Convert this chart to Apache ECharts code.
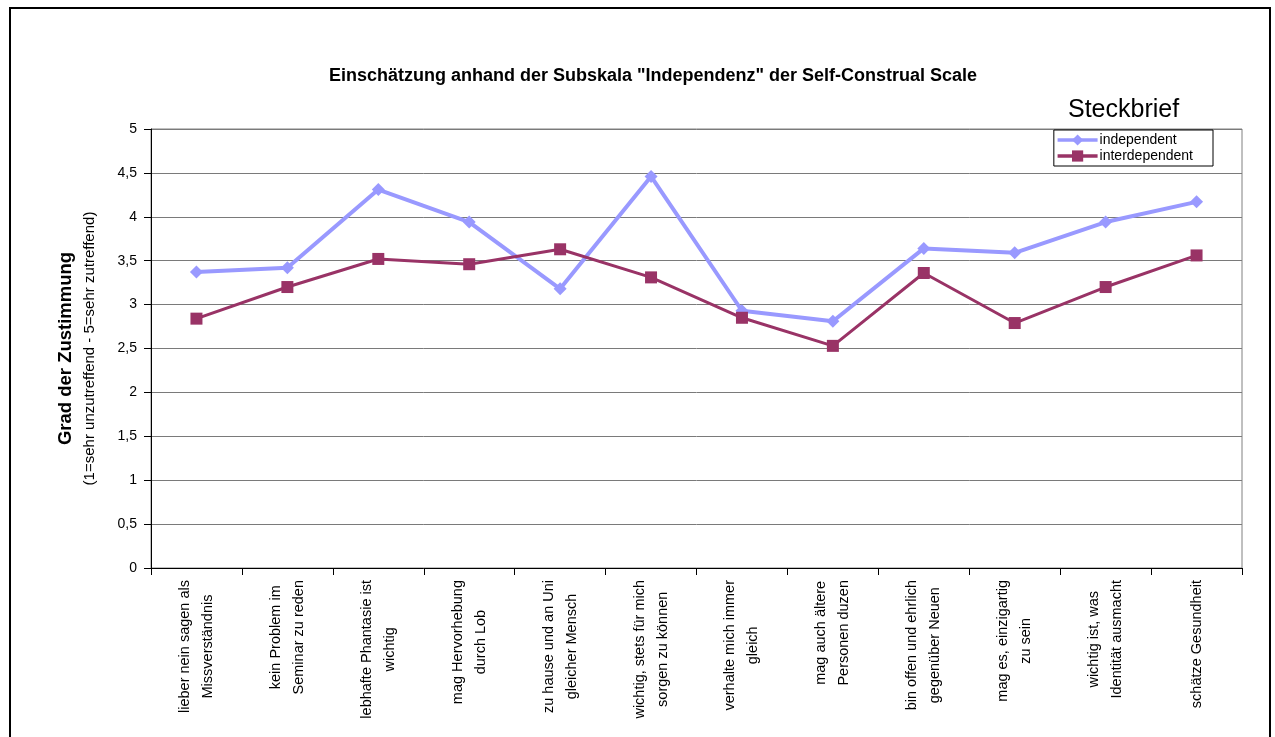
<!DOCTYPE html>
<html>
<head>
<meta charset="utf-8">
<script src="https://cdn.jsdelivr.net/npm/echarts@6/dist/echarts.min.js"></script>
<style>
  html, body { margin: 0; padding: 0; background: #fff; }
  #chart { width: 1275px; height: 737px; }
</style>
</head>
<body>
<div id="chart"></div>
<script>
const categories = [
  "lieber nein sagen als\nMissverständnis",
  "kein Problem im\nSeminar zu reden",
  "lebhafte Phantasie ist\nwichtig",
  "mag Hervorhebung\ndurch Lob",
  "zu hause und an Uni\ngleicher Mensch",
  "wichtig, stets für mich\nsorgen zu können",
  "verhalte mich immer\ngleich",
  "mag auch ältere\nPersonen duzen",
  "bin offen und ehrlich\ngegenüber Neuen",
  "mag es, einzigartig\nzu sein",
  "wichtig ist, was\nIdentität ausmacht",
  "schätze Gesundheit"
];
const independent = [3.37, 3.42, 4.31, 3.94, 3.18, 4.46, 2.93, 2.81, 3.64, 3.59, 3.94, 4.17];
const interdependent = [2.84, 3.20, 3.52, 3.46, 3.63, 3.31, 2.85, 2.53, 3.36, 2.79, 3.20, 3.56];

const font = "Liberation Sans, Arial, sans-serif";
const chart = echarts.init(document.getElementById("chart"));

chart.setOption({
  animation: false,
  backgroundColor: "#fff",
  title: [
    {
      text: 'Einschätzung anhand der Subskala "Independenz" der Self-Construal Scale',
      left: 648,
      textAlign: "center",
      top: 62,
      textStyle: { fontFamily: font, fontSize: 18, fontWeight: "bold", color: "#000" },
    },
    {
      text: "Steckbrief",
      left: 1063,
      top: 93,
      textStyle: { fontFamily: font, fontSize: 25, fontWeight: "normal", color: "#000" },
    },
  ],
  legend: {
    orient: "vertical",
    right: 62,
    top: 130,
    itemWidth: 40,
    itemHeight: 14,
    itemGap: 2,
    padding: [3, 20, 3, 2],
    borderColor: "#000",
    borderWidth: 1,
    backgroundColor: "#fff",
    lineStyle: { width: 3.5 },
    textStyle: { fontFamily: font, fontSize: 14, color: "#000", padding: [0, 0, 0, -3] },
    data: ["independent", "interdependent"],
  },
  graphic: [
    {
      type: "rect",
      shape: { x: 10, y: 8, width: 1260, height: 740 },
      style: { fill: "none", stroke: "#000", lineWidth: 2 },
      silent: true,
    },
  ],
  grid: {
    left: 151,
    right: 33,
    top: 129,
    bottom: 169,
    show: true,
    borderColor: "#808080",
    borderWidth: 1,
  },
  xAxis: {
    type: "category",
    data: categories,
    boundaryGap: true,
    axisLine: { lineStyle: { color: "#000", width: 1 } },
    axisTick: { show: true, length: 7, lineStyle: { color: "#000" } },
    axisLabel: {
      interval: 0,
      rotate: 90,
      margin: 12,
      formatter: (v) => v.split("\n").map((l) => "{c|" + l + "}").join("\n"),
      rich: {
        c: { align: "center", fontFamily: font, fontSize: 14.5, color: "#000", lineHeight: 23 },
      },
    },
  },
  yAxis: {
    type: "value",
    min: 0,
    max: 5,
    interval: 0.5,
    name: "{a|Grad der Zustimmung}\n{b|(1=sehr unzutreffend - 5=sehr zutreffend)}",
    nameLocation: "middle",
    nameRotate: 90,
    nameGap: 50,
    nameTextStyle: {
      rich: {
        a: { align: "center", fontFamily: font, fontSize: 18.5, fontWeight: "bold", color: "#000", lineHeight: 26 },
        b: { align: "center", fontFamily: font, fontSize: 15, color: "#000", lineHeight: 22 },
      },
    },
    axisLine: { show: true, lineStyle: { color: "#000", width: 1 } },
    axisTick: { show: true, length: 7, lineStyle: { color: "#000" } },
    axisLabel: {
      margin: 14,
      fontFamily: font,
      fontSize: 14,
      color: "#000",
      formatter: (v) => String(v).replace(".", ","),
    },
    splitLine: { show: true, lineStyle: { color: "#7a7a7a", width: 1 } },
  },
  series: [
    {
      name: "independent",
      type: "line",
      data: independent,
      symbol: "diamond",
      symbolSize: 13,
      itemStyle: { color: "#9999FF" },
      lineStyle: { color: "#9999FF", width: 4 },
    },
    {
      name: "interdependent",
      type: "line",
      data: interdependent,
      symbol: "rect",
      symbolSize: 12,
      itemStyle: { color: "#993366" },
      lineStyle: { color: "#993366", width: 3 },
    },
  ],
});
</script>
</body>
</html>
